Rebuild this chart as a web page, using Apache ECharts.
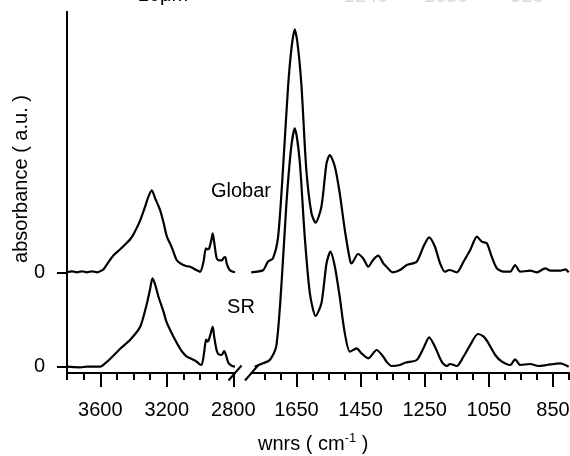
<!DOCTYPE html>
<html><head><meta charset="utf-8">
<script src="https://cdn.jsdelivr.net/npm/echarts@6/dist/echarts.min.js"></script>
<style>html,body{margin:0;padding:0;background:#fff}#c{width:570px;height:456px}</style>
</head><body><div id="c"></div>
<script>
// Wavenumber (cm-1), absorbance (a.u., each trace relative to its own zero)
const globarLeft = [[3800,0.00],[3770,0.01],[3740,0.00],[3710,0.01],[3680,0.00],[3650,0.01],[3620,0.00],[3600,0.01],[3580,0.03],[3560,0.08],[3520,0.17],[3480,0.23],[3443,0.29],[3420,0.33],[3400,0.38],[3360,0.52],[3330,0.66],[3310,0.76],[3290,0.82],[3270,0.74],[3240,0.62],[3220,0.50],[3200,0.36],[3170,0.25],[3140,0.12],[3110,0.08],[3080,0.06],[3060,0.056],[3022,0.023],[3000,0.005],[2980,0.10],[2965,0.24],[2955,0.23],[2945,0.24],[2930,0.34],[2924,0.39],[2915,0.30],[2900,0.14],[2885,0.12],[2870,0.12],[2855,0.15],[2848,0.153],[2840,0.09],[2825,0.03],[2810,0.01],[2790,0.00]];
const srLeft = [[3800,0.00],[3760,-0.005],[3720,-0.006],[3680,0.00],[3640,0.00],[3600,0.00],[3580,0.02],[3540,0.08],[3480,0.18],[3420,0.27],[3360,0.40],[3320,0.63],[3300,0.78],[3286,0.884],[3270,0.82],[3250,0.70],[3220,0.55],[3200,0.44],[3160,0.30],[3120,0.18],[3100,0.134],[3080,0.10],[3060,0.084],[3020,0.05],[3000,0.02],[2990,0.017],[2975,0.15],[2964,0.27],[2955,0.25],[2945,0.28],[2930,0.37],[2924,0.40],[2915,0.30],[2900,0.16],[2885,0.12],[2870,0.117],[2855,0.155],[2845,0.12],[2830,0.04],[2810,0.01],[2790,0.00]];
const globarRight = [[1791,0.00],[1754,0.02],[1739,0.106],[1723,0.14],[1707,0.356],[1692,1.023],[1676,1.856],[1665,2.25],[1655,2.43],[1645,2.25],[1634,1.856],[1619,1.023],[1603,0.59],[1590,0.496],[1572,0.656],[1556,1.09],[1546,1.173],[1530,1.056],[1515,0.793],[1499,0.423],[1483,0.123],[1478,0.09],[1458,0.183],[1442,0.14],[1426,0.056],[1411,0.123],[1395,0.166],[1379,0.09],[1369,0.056],[1350,0.00],[1327,0.023],[1306,0.073],[1275,0.106],[1254,0.256],[1236,0.35],[1218,0.256],[1202,0.09],[1187,0.006],[1173,0.023],[1150,0.00],[1129,0.106],[1108,0.223],[1087,0.356],[1072,0.306],[1056,0.29],[1041,0.156],[1025,0.04],[1004,0.006],[983,0.006],[968,0.073],[952,0.006],[921,0.016],[900,0.00],[874,0.04],[858,0.016],[827,0.016],[811,0.03],[801,0.00]];
const srRight = [[1780,0.00],[1754,0.034],[1733,0.067],[1713,0.20],[1697,0.80],[1681,1.637],[1666,2.20],[1655,2.384],[1640,2.067],[1624,1.30],[1608,0.734],[1590,0.507],[1572,0.634],[1556,1.034],[1544,1.15],[1530,1.00],[1515,0.70],[1499,0.334],[1483,0.15],[1462,0.184],[1447,0.134],[1426,0.084],[1400,0.167],[1379,0.10],[1369,0.05],[1353,0.007],[1327,0.017],[1311,0.04],[1275,0.067],[1254,0.184],[1236,0.294],[1218,0.20],[1197,0.05],[1181,0.007],[1171,0.027],[1150,0.007],[1129,0.10],[1108,0.217],[1084,0.327],[1066,0.30],[1051,0.234],[1030,0.117],[1009,0.05],[983,0.017],[968,0.074],[952,0.017],[921,0.027],[895,0.007],[869,0.017],[827,0.034],[801,0.00]];
const leftMajorTicks = [3600, 3200, 2800];
const leftMinorTicks = [3800,3700,3600,3500,3400,3300,3200,3100,3000,2900,2800];
const rightMajorTicks = [1650, 1450, 1250, 1050, 850];
const rightMinorTicks = [1750,1700,1650,1600,1550,1500,1450,1400,1350,1300,1250,1200,1150,1100,1050,1000,950,900,850,800];
const zeroTicks = [0];
const traceNames = ['Globar', 'SR'];
const topLabels = ['10μm', '1240', '1080', '920'];

const FONT = 'Liberation Sans, Arial, sans-serif';
const chart = echarts.init(document.getElementById('c'), null, {renderer: 'canvas'});
const axisLineStyle = {color: '#000', width: 2};
const gridTop = 12, gridBottom = 83;
const plain = v => String(v);
function majorAxis(grid, min, max, ticks) {
  return {type: 'value', gridIndex: grid, min: min, max: max, inverse: true, position: 'bottom', offset: 0,
    axisLine: {show: true, onZero: false, lineStyle: axisLineStyle},
    axisTick: {show: true, inside: false, length: 14, customValues: ticks, lineStyle: {color: '#000', width: 2}},
    axisLabel: {show: true, customValues: ticks, formatter: plain, color: '#000', fontFamily: FONT, fontSize: 20, margin: 27,
      hideOverlap: false, showMinLabel: true, showMaxLabel: true},
    splitLine: {show: false}};
}
function minorAxis(grid, min, max, ticks) {
  return {type: 'value', gridIndex: grid, min: min, max: max, inverse: true, position: 'bottom', offset: 0,
    axisLine: {show: false, onZero: false},
    axisTick: {show: true, inside: false, length: 7, customValues: ticks, lineStyle: {color: '#000', width: 2}},
    axisLabel: {show: false}, splitLine: {show: false}};
}
function yAx(grid, min, max, visible) {
  return {type: 'value', gridIndex: grid, min: min, max: max, position: 'left', offset: 0,
    axisLine: {show: visible, onZero: false, lineStyle: axisLineStyle},
    axisTick: {show: visible, inside: false, length: 10, customValues: zeroTicks, lineStyle: {color: '#000', width: 2}},
    axisLabel: {show: visible, customValues: zeroTicks, formatter: plain, color: '#000', fontFamily: FONT, fontSize: 20, margin: 22},
    splitLine: {show: false}};
}
const lineStyle = {color: '#000', width: 2.2};
function ser(x, y, data) {
  return {type: 'line', xAxisIndex: x, yAxisIndex: y, data: data, smooth: 0.25, symbol: 'none',
    lineStyle: lineStyle, itemStyle: {color: '#000'}};
}
const ySpan = [-0.063, 3.547];
const gOff = 0.944;
chart.setOption({
  animation: false,
  backgroundColor: '#fff',
  grid: [
    {left: 67, width: 168, top: gridTop, bottom: gridBottom, containLabel: false, outerBoundsMode: 'none'},
    {left: 251.5, right: 1, top: gridTop, bottom: gridBottom, containLabel: false, outerBoundsMode: 'none'}
  ],
  xAxis: [
    majorAxis(0, 2790, 3800, leftMajorTicks),
    majorAxis(1, 800, 1790, rightMajorTicks),
    minorAxis(0, 2790, 3800, leftMinorTicks),
    minorAxis(1, 800, 1790, rightMinorTicks)
  ],
  yAxis: [
    yAx(0, ySpan[0], ySpan[1], true),
    yAx(0, ySpan[0] - gOff, ySpan[1] - gOff, true),
    yAx(1, ySpan[0], ySpan[1], false),
    yAx(1, ySpan[0] - gOff, ySpan[1] - gOff, false)
  ],
  series: [
    ser(0, 1, globarLeft), ser(0, 0, srLeft),
    ser(1, 3, globarRight), ser(1, 2, srRight)
  ]
});
const yBase = 456 - gridBottom;
const leftEnd = chart.convertToPixel({xAxisIndex: 0}, 2790);
const rightStart = chart.convertToPixel({xAxisIndex: 1}, 1790);
function slash(cx) {
  return {type: 'line', shape: {x1: cx - 6.5, y1: yBase + 7.5, x2: cx + 6.5, y2: yBase - 7.5},
    style: {stroke: '#000', lineWidth: 2}, z: 10};
}
function txt(x, y, t, align, vAlign, fill) {
  return {type: 'text', x: x, y: y, z: 10,
    style: {text: t, fill: fill || '#000', font: '20px ' + FONT, align: align, verticalAlign: vAlign}};
}
chart.setOption({
  graphic: [
    slash(leftEnd), slash(rightStart),
    txt(241, 191, traceNames[0], 'center', 'middle'),
    txt(241, 307, traceNames[1], 'center', 'middle'),
    {type: 'text', x: 21, y: 179, rotation: Math.PI / 2, z: 10,
      style: {text: 'absorbance ( a.u. )', fill: '#000', font: '20px ' + FONT, align: 'center', verticalAlign: 'middle'}},
    {type: 'text', x: 258, y: 444, z: 10,
      style: {text: '{n|wnrs ( cm}{s|-1}{n| )}', align: 'left', verticalAlign: 'middle',
        rich: {n: {fontSize: 20, fontFamily: FONT, fill: '#000', color: '#000', lineHeight: 24},
               s: {fontSize: 13, fontFamily: FONT, fill: '#000', color: '#000', verticalAlign: 'top', lineHeight: 24}}}},
    txt(163, 5, topLabels[0], 'center', 'bottom'),
    txt(366, 6, topLabels[1], 'center', 'bottom', '#d8d8d8'),
    txt(446, 6, topLabels[2], 'center', 'bottom', '#d8d8d8'),
    txt(527, 6, topLabels[3], 'center', 'bottom', '#d8d8d8')
  ]
});
</script></body></html>
